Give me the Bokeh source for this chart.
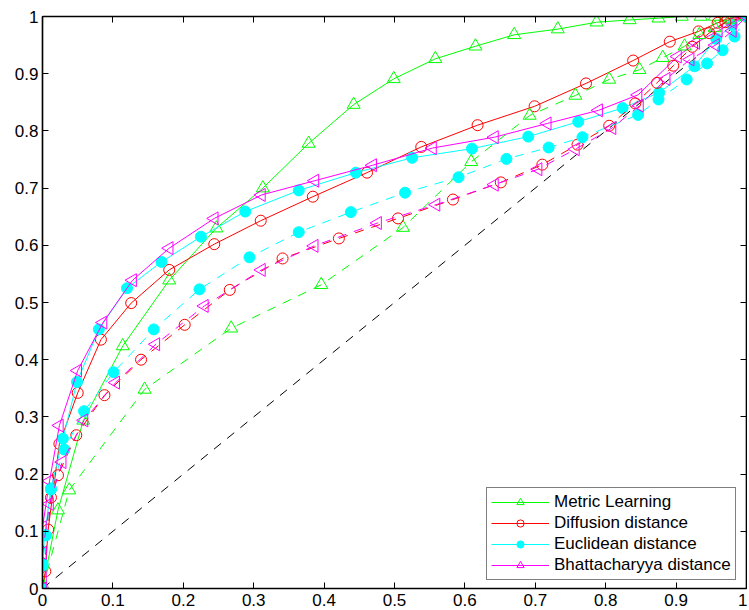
import math
from bokeh.plotting import figure
from bokeh.models import LinearAxis, FixedTicker, Range1d, Legend, LegendItem
from bokeh.embed import file_html
from bokeh.resources import INLINE

# ---------------- data ----------------
ticks = [0, 0.1, 0.2, 0.3, 0.4, 0.5, 0.6, 0.7, 0.8, 0.9, 1]
tick_labels = ["0", "0.1", "0.2", "0.3", "0.4", "0.5", "0.6", "0.7", "0.8", "0.9", "1"]

series_names = ["Metric Learning", "Diffusion distance", "Euclidean distance", "Bhattacharyya distance"]

# Metric Learning (solid / dashed)
ml_x = [0, 0.022, 0.058, 0.114, 0.180, 0.247, 0.313, 0.378, 0.442, 0.499, 0.558, 0.615, 0.670,
        0.732, 0.787, 0.834, 0.875, 0.908, 0.935, 0.955, 0.970, 0.985, 1.0]
ml_y = [0, 0.137, 0.294, 0.424, 0.539, 0.630, 0.700, 0.778, 0.846, 0.891, 0.926, 0.948, 0.968,
        0.978, 0.990, 0.994, 0.997, 1.0, 1.0, 1.0, 1.0, 1.0, 1.0]
ml2_x = [0, 0.038, 0.145, 0.268, 0.396, 0.512, 0.609, 0.692, 0.757, 0.805, 0.848, 0.881, 0.912,
         0.933, 0.955, 0.976, 1.0]
ml2_y = [0, 0.172, 0.348, 0.455, 0.531, 0.631, 0.746, 0.827, 0.862, 0.890, 0.907, 0.928, 0.948,
         0.968, 0.980, 0.995, 1.0]

# Diffusion distance
dd_x = [0, 0.004, 0.008, 0.024, 0.050, 0.083, 0.126, 0.180, 0.244, 0.310, 0.384, 0.461, 0.538,
        0.618, 0.699, 0.772, 0.839, 0.891, 0.932, 0.959, 0.973, 1.0]
dd_y = [0, 0.030, 0.103, 0.253, 0.342, 0.435, 0.499, 0.557, 0.602, 0.643, 0.685, 0.727, 0.772,
        0.810, 0.843, 0.883, 0.923, 0.956, 0.974, 0.989, 0.996, 1.0]
dd2_x = [0, 0.012, 0.022, 0.048, 0.088, 0.140, 0.202, 0.266, 0.341, 0.421, 0.505, 0.583, 0.651,
         0.710, 0.760, 0.805, 0.842, 0.873, 0.896, 0.923, 0.947, 0.970, 1.0]
dd2_y = [0, 0.159, 0.198, 0.268, 0.338, 0.400, 0.461, 0.522, 0.577, 0.612, 0.647, 0.680, 0.710,
         0.741, 0.776, 0.809, 0.848, 0.884, 0.914, 0.947, 0.971, 0.990, 1.0]

# Euclidean distance
ed_x = [0, 0.0, 0.003, 0.012, 0.029, 0.049, 0.080, 0.120, 0.169, 0.225, 0.288, 0.364, 0.445,
        0.525, 0.610, 0.690, 0.761, 0.824, 0.876, 0.926, 0.957, 0.980, 1.0]
ed_y = [0, 0.044, 0.093, 0.175, 0.262, 0.361, 0.453, 0.525, 0.571, 0.615, 0.659, 0.696, 0.727,
        0.753, 0.769, 0.790, 0.816, 0.840, 0.867, 0.913, 0.961, 0.985, 1.0]
ed2_x = [0, 0.0, 0.005, 0.012, 0.031, 0.059, 0.101, 0.158, 0.223, 0.294, 0.364, 0.438, 0.515,
         0.591, 0.659, 0.719, 0.767, 0.846, 0.875, 0.915, 0.944, 0.966, 0.983, 1.0]
ed2_y = [0, 0.040, 0.093, 0.173, 0.243, 0.310, 0.378, 0.453, 0.523, 0.579, 0.623, 0.658, 0.692,
         0.719, 0.751, 0.771, 0.789, 0.828, 0.855, 0.890, 0.918, 0.941, 0.965, 1.0]

# Bhattacharyya distance
bd_x = [0, 0.0, 0.0, 0.010, 0.024, 0.050, 0.086, 0.128, 0.180, 0.244, 0.311, 0.387, 0.469,
        0.554, 0.642, 0.717, 0.790, 0.846, 0.902, 0.928, 0.960, 0.980, 1.0]
bd_y = [0, 0.020, 0.107, 0.188, 0.285, 0.381, 0.465, 0.539, 0.595, 0.647, 0.688, 0.713, 0.740,
        0.770, 0.789, 0.813, 0.836, 0.863, 0.930, 0.954, 0.975, 0.990, 1.0]
bd2_x = [0, 0.0, 0.010, 0.028, 0.059, 0.104, 0.161, 0.230, 0.311, 0.386, 0.476, 0.559, 0.642,
         0.704, 0.757, 0.809, 0.848, 0.886, 0.920, 0.956, 0.980, 1.0]
bd2_y = [0, 0.062, 0.148, 0.221, 0.294, 0.360, 0.427, 0.494, 0.557, 0.599, 0.639, 0.671, 0.706,
         0.733, 0.768, 0.805, 0.844, 0.891, 0.925, 0.950, 0.975, 1.0]

diag_x = [0, 1]
diag_y = [0, 1]

# ---------------- figure ----------------
FONT = "Liberation Sans"
p = figure(width=747, height=608, output_backend="svg", toolbar_location=None,
           x_range=Range1d(0, 1), y_range=Range1d(0, 1),
           min_border_left=42, min_border_right=1, min_border_top=16, min_border_bottom=20)
p.xgrid.visible = False
p.ygrid.visible = False
p.outline_line_color = "black"
p.outline_line_width = 1.2
p.background_fill_color = "white"
p.border_fill_color = "white"

p.add_layout(LinearAxis(), "right")
p.add_layout(LinearAxis(), "above")

overrides = {t: l for t, l in zip(ticks, tick_labels)}
for ax in p.axis:
    ax.ticker = FixedTicker(ticks=ticks)
    ax.major_tick_in = 6
    ax.major_tick_out = 0
    ax.minor_tick_line_color = None
    ax.axis_line_color = "black"
    ax.axis_line_width = 1.5
    ax.major_tick_line_color = "black"
    ax.major_tick_line_width = 1
    ax.major_label_overrides = overrides
    ax.major_label_text_font = FONT
    ax.major_label_text_font_size = "17px"
    ax.major_label_text_color = "black"
for ax in p.right + p.above:
    ax.major_label_text_font_size = "0px"
    ax.major_label_standoff = 0
p.xaxis[0].major_label_standoff = 6
p.yaxis[0].major_label_standoff = 4

GREEN, RED, CYAN, MAG = "#00ff00", "#ff0000", "#00ffff", "#ff00ff"
DASH = "9 8"

p.line(diag_x, diag_y, line_color="black", line_width=1, line_dash=DASH)

def series(x, y, color, marker, dashed, filled=False, angle=0.0, size=11):
    kw = {}
    if dashed:
        kw["line_dash"] = DASH
    lr = p.line(x, y, line_color=color, line_width=1, **kw)
    sr = p.scatter(x, y, marker=marker, size=size, line_color=color, line_width=1,
                   fill_color=color if filled else None, angle=angle)
    return lr, sr

ml_s = series(ml_x, ml_y, GREEN, "triangle", False, size=13)
dd_s = series(dd_x, dd_y, RED, "circle", False)
ed_s = series(ed_x, ed_y, CYAN, "circle", False, filled=True)
bd_s = series(bd_x, bd_y, MAG, "triangle", False, angle=math.pi / 2, size=13)
series(ml2_x, ml2_y, GREEN, "triangle", True, size=13)
series(dd2_x, dd2_y, RED, "circle", True)
series(ed2_x, ed2_y, CYAN, "circle", True, filled=True)
series(bd2_x, bd2_y, MAG, "triangle", True, angle=math.pi / 2, size=13)

items = [LegendItem(label=n, renderers=list(r)) for n, r in
         zip(series_names, [ml_s, dd_s, ed_s, bd_s])]
legend = Legend(items=items, location=(444, 8))
legend.label_text_font = FONT
legend.label_text_font_size = "17px"
legend.label_text_color = "black"
legend.glyph_width = 58
legend.glyph_height = 18
legend.label_height = 18
legend.label_standoff = 5
legend.padding = 4
legend.spacing = 1
legend.margin = 0
legend.border_line_color = "black"
legend.border_line_width = 1
legend.background_fill_alpha = 1
p.add_layout(legend)

open("out.html", "w").write(file_html(p, INLINE))
